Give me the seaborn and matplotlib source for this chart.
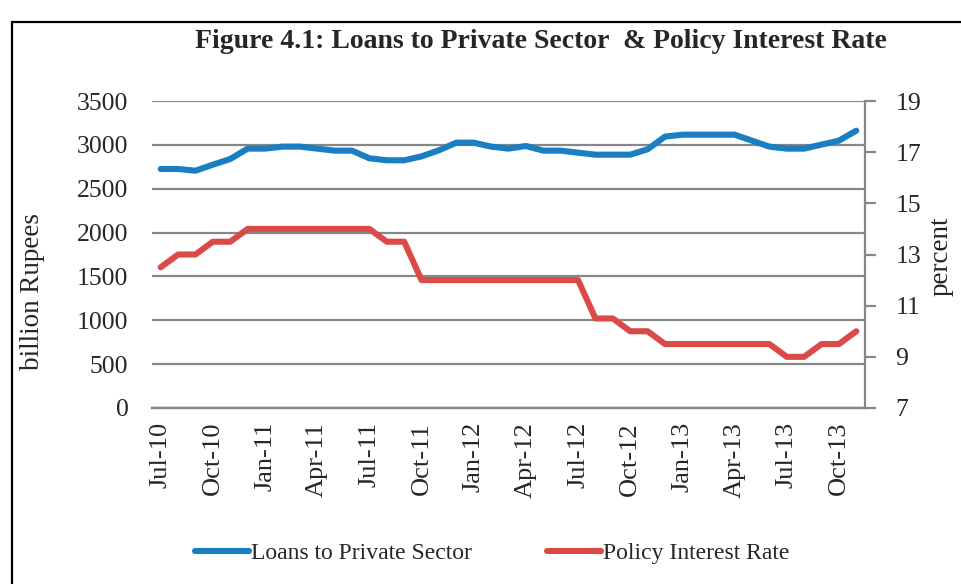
import matplotlib
matplotlib.use("Agg")
import matplotlib.pyplot as plt
import seaborn as sns
import pandas as pd
import numpy as np
from matplotlib.lines import Line2D
from matplotlib.ticker import FixedLocator, NullFormatter

# Monthly observations, Jul-2010 .. Nov-2013
months = pd.date_range("2010-07-01", "2013-11-01", freq="MS").strftime("%b-%y").tolist()

loans_private = [2725, 2725, 2705, 2774, 2839, 2957, 2957, 2980, 2980, 2957,
                 2934, 2934, 2847, 2824, 2824, 2869, 2938, 3025, 3025, 2980,
                 2957, 2987, 2934, 2934, 2911, 2888, 2888, 2888, 2950, 3094,
                 3116, 3116, 3116, 3116, 3048, 2980, 2957, 2957, 3003, 3048,
                 3162]

policy_rate = [12.5, 13.0, 13.0, 13.5, 13.5, 14.0, 14.0, 14.0, 14.0, 14.0,
               14.0, 14.0, 14.0, 13.5, 13.5, 12.0, 12.0, 12.0, 12.0, 12.0,
               12.0, 12.0, 12.0, 12.0, 12.0, 10.5, 10.5, 10.0, 10.0, 9.5,
               9.5, 9.5, 9.5, 9.5, 9.5, 9.5, 9.0, 9.0, 9.5, 9.5,
               10.0]

left_ticks = [0, 500, 1000, 1500, 2000, 2500, 3000, 3500]
right_ticks = [7, 9, 11, 13, 15, 17, 19]

df = pd.DataFrame({"pos": np.arange(len(months)), "month": months,
                   "loans": loans_private, "rate": policy_rate})

sns.set_style("white")
plt.rcParams["font.family"] = ["Liberation Serif", "DejaVu Serif"]

BLUE = "#1a7fc2"
RED = "#da4b47"
GRID = "#878787"

fig = plt.figure(figsize=(9.61, 5.84), dpi=100)
ax = fig.add_axes([152 / 961, 1 - 408 / 584, (865 - 152) / 961, (408 - 101) / 584])
ax2 = ax.twinx()

sns.lineplot(data=df, x="pos", y="loans", ax=ax, color=BLUE, lw=4.4,
             solid_capstyle="round", label="Loans to Private Sector", legend=False)
sns.lineplot(data=df, x="pos", y="rate", ax=ax2, color=RED, lw=4.4,
             solid_capstyle="round", label="Policy Interest Rate", legend=False)

n = len(months)
ax.set_xlim(-0.5, n - 0.5)
ax.set_ylim(0, 3500)
ax2.set_ylim(7, 19)

# gridlines from the left scale
ax.set_yticks(left_ticks)
ax.yaxis.grid(True, color=GRID, lw=1.6)
ax.set_axisbelow(True)
ax.tick_params(axis="y", length=0, pad=17, labelsize=18.5)

# category boundaries carry tick marks, labels sit on every third month
ax.xaxis.set_major_locator(FixedLocator(np.arange(-0.5, n, 3)))
ax.xaxis.set_major_formatter(NullFormatter())
label_pos = np.arange(0, n, 3)
ax.xaxis.set_minor_locator(FixedLocator(label_pos))
ax.set_xticklabels([months[i] for i in label_pos], minor=True, rotation=90, fontsize=19)
ax.tick_params(axis="x", which="major", length=7, width=1.6, color=GRID, direction="out")
ax.tick_params(axis="x", which="minor", length=0, pad=10)
ax.set_xlabel("")
ax.set_ylabel("")
ax2.set_ylabel("")

ax2.set_yticks(right_ticks)
ax2.tick_params(axis="y", length=8, width=1.6, color=GRID, direction="out", pad=14, labelsize=18.5)
ax2.grid(False)

for a in (ax, ax2):
    for side in ("left", "top", "right"):
        a.spines[side].set_visible(False)
    a.spines["bottom"].set_color(GRID)
    a.spines["bottom"].set_linewidth(1.6)
ax2.spines["right"].set_visible(True)
ax2.spines["right"].set_color(GRID)
ax2.spines["right"].set_linewidth(1.6)

# axis titles
fig.text(33 / 961, 1 - 291 / 584, "billion Rupees", rotation=90, ha="center", va="center",
         fontsize=19.5)
fig.text(941 / 961, 1 - 256 / 584, "percent", rotation=90, ha="center", va="center",
         fontsize=19.5)

fig.text(541 / 961, 1 - 42 / 584, "Figure 4.1: Loans to Private Sector  & Policy Interest Rate",
         ha="center", va="center", fontsize=20, fontweight="bold")

handles = [Line2D([], [], color=BLUE, lw=4.4, solid_capstyle="round"),
           Line2D([], [], color=RED, lw=4.4, solid_capstyle="round")]
fig.legend(handles, ["Loans to Private Sector", "Policy Interest Rate"],
           loc="center", bbox_to_anchor=(492 / 961, 1 - 553 / 584), ncol=2,
           frameon=False, fontsize=17, handlelength=2.3, handletextpad=0.05,
           columnspacing=3.2)

# outer frame (left and top edges)
fig.add_artist(Line2D([11.5 / 961, 11.5 / 961], [0, 1 - 22 / 584], color="black", lw=1.6,
                      transform=fig.transFigure))
fig.add_artist(Line2D([11.5 / 961, 1], [1 - 22 / 584, 1 - 22 / 584], color="black", lw=1.6,
                      transform=fig.transFigure))

fig.savefig("out.png", dpi=100)
